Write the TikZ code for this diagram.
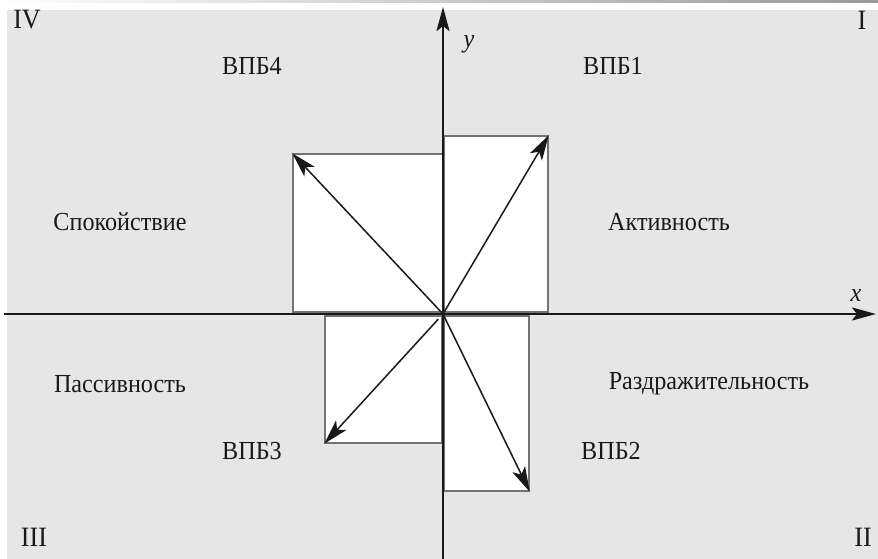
\documentclass[tikz,border=0pt]{standalone}
\usepackage{fontspec}
\setmainfont{Liberation Serif}[FakeStretch=0.93]
\usepackage{tikz}
\usetikzlibrary{arrows.meta,calc}
\definecolor{panelgray}{RGB}{230,230,230}
\definecolor{framegray}{RGB}{115,115,115}
\definecolor{inkblack}{RGB}{25,25,25}
\tikzset{
  axis-arrow/.style={-{Stealth[length=24pt, width=13pt, inset=5pt]}, line width=2.4pt, draw=inkblack},
  vector-box/.style={draw=framegray, fill=white, line width=1.4pt},
  vector-arrow/.style={-{Stealth[length=25pt, width=14pt, inset=6pt]}, line width=1.5pt, draw=inkblack},
  zone-label/.style={font=\fontsize{26}{30}\selectfont, text=inkblack, inner sep=0pt},
  quarter-label/.style={font=\fontsize{28}{32}\selectfont, text=inkblack, inner sep=0pt},
  axis-label/.style={font=\fontsize{26}{30}\selectfont\itshape, text=inkblack, inner sep=0pt}
}

\begin{document}
\begin{tikzpicture}[x=1pt, y=-1pt]
\useasboundingbox (0,0) rectangle (878,559);
% panel and top bar
\shade[left color=white, right color=black!40] (0,0) rectangle (878,3);
\fill[panelgray] (7,10) rectangle (878,559);
% boxes of the four vectors
\node[vector-box, inner sep=0pt, minimum width=104pt, minimum height=176pt] (box1) at (496,224) {};
\node[vector-box, inner sep=0pt, minimum width=85pt, minimum height=175pt] (box2) at (486.5,403.5) {};
\node[vector-box, inner sep=0pt, minimum width=117pt, minimum height=127pt] (box3) at (383.5,379.5) {};
\node[vector-box, inner sep=0pt, minimum width=150pt, minimum height=158pt] (box4) at (368,233) {};
% axes
\coordinate (o) at (443,314);
\coordinate (xs) at (4,314);
\coordinate (xe) at (876,314);
\coordinate (ys) at (443,559);
\coordinate (ye) at (443,7);
\draw[axis-arrow] (xs) -- (xe);
\draw[axis-arrow] (ys) -- (ye);
% vectors
\draw[vector-arrow] (o) -- (box1.north east);
\draw[vector-arrow] (o) -- (box2.south east);
\draw[vector-arrow] ($(o)!0.04!(box3.south west)$) -- (box3.south west);
\draw[vector-arrow] (o) -- (box4.north west);
% labels
\node[axis-label] (ylab) at (469,44) {y};
\node[axis-label] (xlab) at (856,296) {x};
\node[quarter-label] (q4) at (27,20) {IV};
\node[quarter-label] (q1) at (862,20) {I};
\node[quarter-label] (q3) at (34,537) {III};
\node[quarter-label] (q2) at (863,537) {II};
\foreach \px/\py/\txt/\nm in {%
  252/66/ВПБ4/t4, 613/66/ВПБ1/t1,
  120/222/Спокойствие/calm, 669/222/Активность/act,
  120/384/Пассивность/pas, 709/384/Раздражительность/irr,
  252/451/ВПБ3/t3, 611/451/ВПБ2/t2%
}{
  \node[zone-label] (\nm) at (\px,\py) {\txt};
}
\end{tikzpicture}
\end{document}
